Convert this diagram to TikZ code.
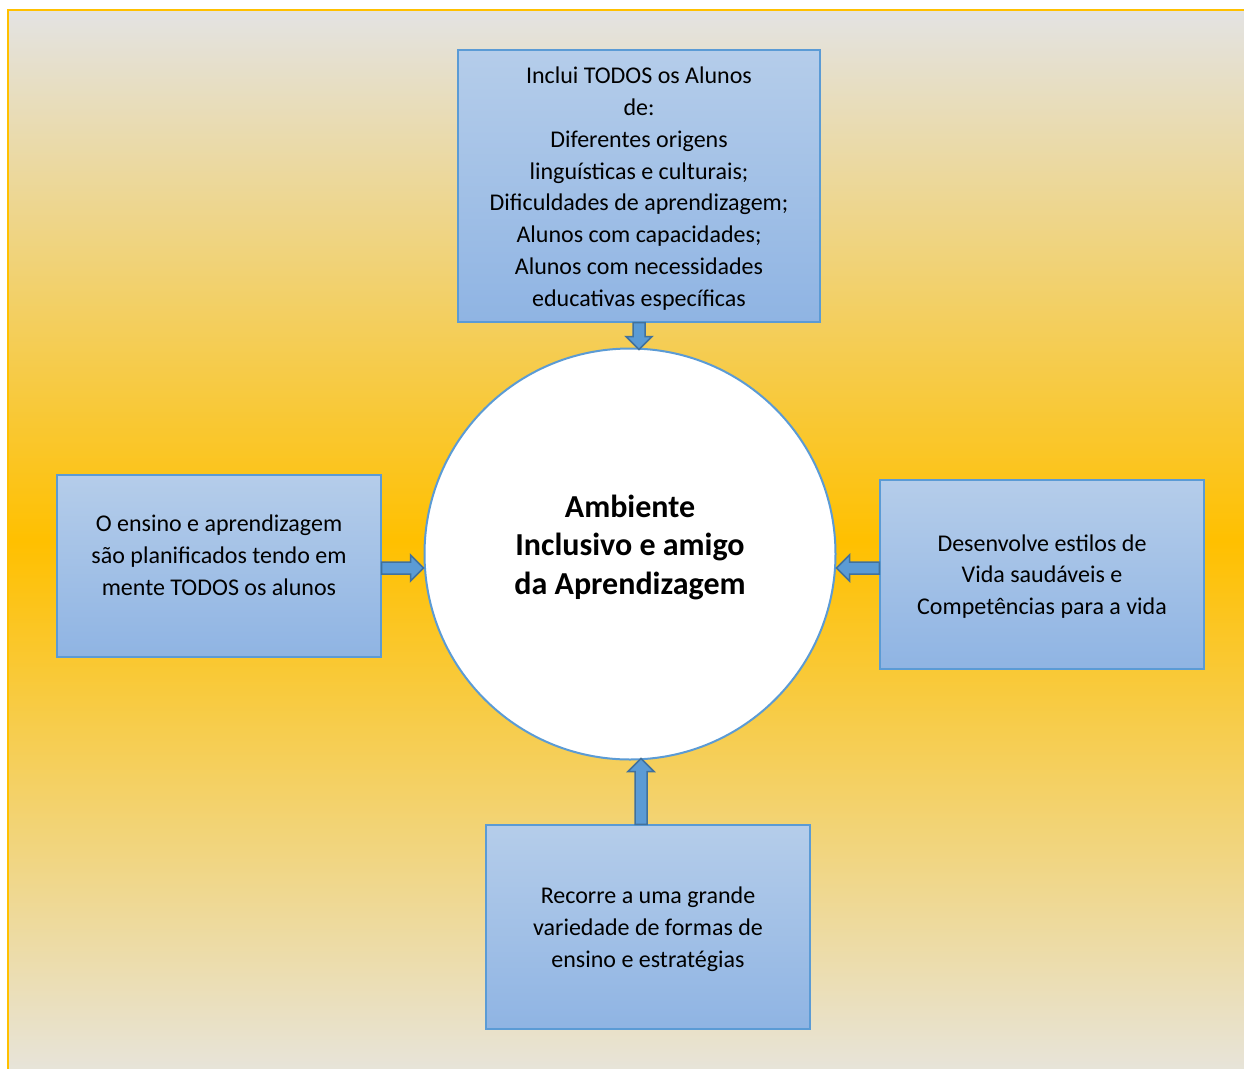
\documentclass[tikz,border=0pt]{standalone}
\usepackage{fontspec}
\setmainfont{Carlito}
\usetikzlibrary{calc}
\definecolor{gold}{HTML}{FFC000}
\definecolor{bgtop}{HTML}{E3E3E3}
\definecolor{bgbot}{HTML}{E7E4DA}
\definecolor{boxtop}{HTML}{B5CDEA}
\definecolor{boxbot}{HTML}{8FB4E3}
\definecolor{boxline}{HTML}{5B9BD5}
\definecolor{arrfill}{HTML}{5B9BD5}
\definecolor{arrline}{HTML}{41719C}
\tikzset{
  infobox/.style={rectangle, draw=boxline, line width=1.2pt, top color=boxtop, bottom color=boxbot, inner sep=0pt},
  txt/.style={align=center, font=\fontsize{24}{31.8}\selectfont, text=black, inner sep=0pt},
  ctxt/.style={align=center, font=\fontsize{32}{38.5}\selectfont\bfseries, text=black, inner sep=0pt},
  blockfill/.style={fill=arrfill, draw=arrline, line width=1.5pt, line join=miter},
}
\newcommand\blockarr[2]{%
  \coordinate (ba-h) at ($(#2)!13pt!(#1)$);
  \filldraw[blockfill]
    ($(#1)!6pt!90:(#2)$) -- ($(ba-h)!6pt!90:(#2)$) -- ($(ba-h)!13pt!90:(#2)$) -- (#2)
    -- ($(ba-h)!13pt!-90:(#2)$) -- ($(ba-h)!6pt!-90:(#2)$) -- ($(#1)!6pt!-90:(#2)$) -- cycle;}
\begin{document}
\begin{tikzpicture}[x=1pt,y=-1pt]
\useasboundingbox (0,0) rectangle (1244,1068);
\fill[white] (0,0) rectangle (1244,1068);
\begin{scope}
\clip (0,0) rectangle (1244,1068);
\shade[top color=bgtop, bottom color=bgbot, middle color=gold] (8,10) rectangle (1252,1072);
\draw[gold, line width=2pt] (8,1080) -- (8,10) -- (1252,10);
\end{scope}

\node[infobox, minimum width=362, minimum height=272] (top) at (639,186) {};
\node[txt] (toptxt) at ($(top)+(0,2.5)$) {Inclui TODOS os Alunos\\ de:\\ Diferentes origens\\ linguísticas e culturais;\\ Dificuldades de aprendizagem;\\ Alunos com capacidades;\\ Alunos com necessidades\\ educativas específicas};

\node[infobox, minimum width=324, minimum height=182] (left) at (219,566) {};
\node[txt] (lefttxt) at ($(left)+(0,-11)$) {O ensino e aprendizagem\\ são planificados tendo em\\ mente TODOS os alunos};

\node[infobox, minimum width=324, minimum height=189] (right) at (1042,574.5) {};
\node[txt] (righttxt) at ($(right)+(0,2)$) {Desenvolve estilos de\\ Vida saudáveis e\\ Competências para a vida};

\node[infobox, minimum width=324, minimum height=204] (bottom) at (648,927) {};
\node[txt] (bottomtxt) at ($(bottom)+(0,2.5)$) {Recorre a uma grande\\ variedade de formas de\\ ensino e estratégias};

\node[circle, draw=boxline, line width=2pt, fill=white, minimum size=411, inner sep=0pt] (c) at (630,554) {};
\node[ctxt] (ctxt) at ($(c)+(0,-7)$) {Ambiente\\ Inclusivo e amigo\\ da Aprendizagem};

\coordinate (ta) at (top.south);
\coordinate (tb) at ($(top.south |- c.north)+(0,2)$);
\blockarr{ta}{tb}
\coordinate (la) at ($(left.east)+(0,2)$);
\coordinate (lb) at (la -| c.west);
\blockarr{la}{lb}
\coordinate (ra) at (right.west |- la);
\coordinate (rb) at (c.east |- la);
\blockarr{ra}{rb}
\coordinate (bma) at ($(bottom.north)+(-7,0)$);
\coordinate (bmb) at ($(bma |- c.south)+(0,-2)$);
\blockarr{bma}{bmb}
\end{tikzpicture}
\end{document}
